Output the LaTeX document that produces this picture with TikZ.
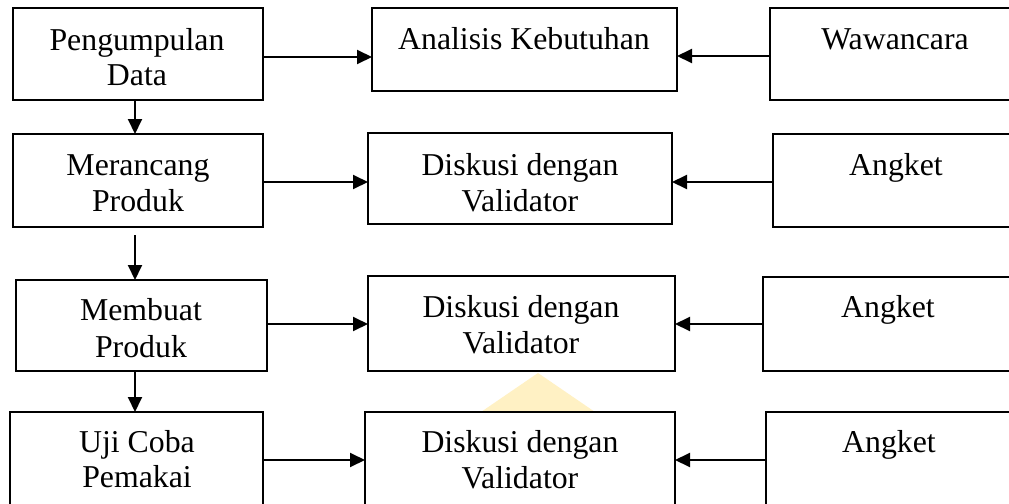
\documentclass[tikz,border=0pt]{standalone}
\usepackage{fontspec}
\setmainfont{Liberation Serif}
\usetikzlibrary{arrows.meta}
\definecolor{wm}{RGB}{255,241,196}
\tikzset{
  box/.style={draw, line width=1pt, inner sep=0pt, outer sep=0pt, fill=white},
  txt/.style={anchor=base, inner sep=0pt, font=\fontsize{15.9}{18}\selectfont},
  arr/.style={-{Triangle[length=7.5pt,width=7pt]}, line width=1pt},
}
\begin{document}
\begin{tikzpicture}[x=0.5pt, y=-0.5pt]
\path[use as bounding box, clip] (0,0) rectangle (1009,504);
\fill[white] (0,0) rectangle (1009,504);
% faint watermark
\fill[wm] (538,373) -- (595,412) -- (481,412) -- cycle;
% boxes
\node[box, minimum width=125pt, minimum height=46pt] (pd) at (138,54) {};
\node[box, minimum width=152.5pt, minimum height=41.5pt] (ak) at (524.5,49.5) {};
\node[box, minimum width=135pt, minimum height=46pt] (ww) at (905,54) {};
\node[box, minimum width=125pt, minimum height=46.5pt] (mp) at (138,180.5) {};
\node[box, minimum width=152pt, minimum height=45.5pt] (dv1) at (520,178.5) {};
\node[box, minimum width=133.5pt, minimum height=46.5pt] (ag1) at (906.5,180.5) {};
\node[box, minimum width=125.5pt, minimum height=45.5pt] (mb) at (141.5,325.5) {};
\node[box, minimum width=153.5pt, minimum height=47.5pt] (dv2) at (521.5,323.5) {};
\node[box, minimum width=138.5pt, minimum height=47pt] (ag2) at (901.5,324) {};
\node[box, minimum width=126.5pt, minimum height=48pt] (uc) at (136.5,460) {};
\node[box, minimum width=155pt, minimum height=48pt] (dv3) at (520,460) {};
\node[box, minimum width=137pt, minimum height=48pt] (ag3) at (903,460) {};
% texts
\node[txt] (pdt1) at (137,50) {Pengumpulan};
\node[txt] (pdt2) at (137,85) {Data};
\node[txt] (akt) at (524,49) {Analisis Kebutuhan};
\node[txt] (wwt) at (895,49) {Wawancara};
\node[txt] (mpt1) at (138,175) {Merancang};
\node[txt] (mpt2) at (138,211) {Produk};
\node[txt] (dv1t1) at (520,175) {Diskusi dengan};
\node[txt] (dv1t2) at (520,211) {Validator};
\node[txt] (ag1t) at (896,175) {Angket};
\node[txt] (mbt1) at (141,320) {Membuat};
\node[txt] (mbt2) at (141,357) {Produk};
\node[txt] (dv2t1) at (521,317) {Diskusi dengan};
\node[txt] (dv2t2) at (521,353) {Validator};
\node[txt] (ag2t) at (888,317) {Angket};
\node[txt] (uct1) at (137,452) {Uji Coba};
\node[txt] (uct2) at (137,487) {Pemakai};
\node[txt] (dv3t1) at (520,452) {Diskusi dengan};
\node[txt] (dv3t2) at (520,488) {Validator};
\node[txt] (ag3t) at (889,452) {Angket};
% connectors
\draw[arr] ([yshift=-1.5pt]pd.east) -- ([yshift=-1.5pt]pd.east -| ak.west);
\draw[arr] ([yshift=-1pt]ww.west) -- ([yshift=-1pt]ww.west -| ak.east);
\draw[arr] ([xshift=-1.5pt]pd.south) -- ([xshift=-1.5pt]pd.south |- mp.north);
\draw[arr] ([yshift=-0.75pt]mp.east) -- ([yshift=-0.75pt]mp.east -| dv1.west);
\draw[arr] ([yshift=-0.75pt]ag1.west) -- ([yshift=-0.75pt]ag1.west -| dv1.east);
\draw[arr] ([xshift=-1.5pt,yshift=-4pt]mp.south) -- ([xshift=-1.5pt]mp.south |- mb.north);
\draw[arr] ([yshift=0.75pt]mb.east) -- ([yshift=0.75pt]mb.east -| dv2.west);
\draw[arr] (ag2.west) -- (ag2.west -| dv2.east);
\draw[arr] ([xshift=-1.5pt]mp.south |- mb.south) -- ([xshift=-1.5pt]mp.south |- uc.north);
\draw[arr] (uc.east) -- (dv3.west);
\draw[arr] (ag3.west) -- (dv3.east);
\end{tikzpicture}
\end{document}
